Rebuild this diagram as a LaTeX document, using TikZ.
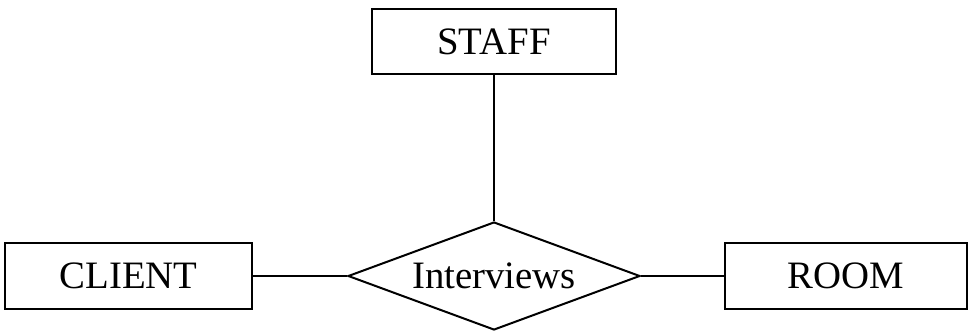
\documentclass[tikz,border=0pt]{standalone}
\usepackage{fontspec}
\setmainfont{Liberation Serif}
\usetikzlibrary{shapes.geometric}
\begin{document}
\begin{tikzpicture}[x=0.5pt,y=-0.5pt,
  entity/.style={draw,line width=1pt,inner sep=0pt,minimum width=122pt,minimum height=33pt,font=\fontsize{19.4}{23}\selectfont},
  relation/.style={draw,diamond,line width=1pt,inner sep=0pt,minimum width=146pt,minimum height=54pt,shape aspect=2.7,font=\fontsize{19.4}{23}\selectfont},
  link/.style={line width=1pt}]
\useasboundingbox (0,0) rectangle (969,332);
\node[entity,minimum width=122pt,minimum height=32.5pt] (staff) at (494,41.5) {STAFF};
\node[entity,minimum width=123.5pt] (client) at (128.5,276) {CLIENT};
\node[entity,minimum width=121pt] (room) at (846,276) {ROOM};
\node[relation] (rel) at (494,276) {Interviews};
\draw[link] (staff.south) -- (rel.north);
\draw[link] (client.east) -- (rel.west);
\draw[link] (rel.east) -- (room.west);
\end{tikzpicture}
\end{document}
